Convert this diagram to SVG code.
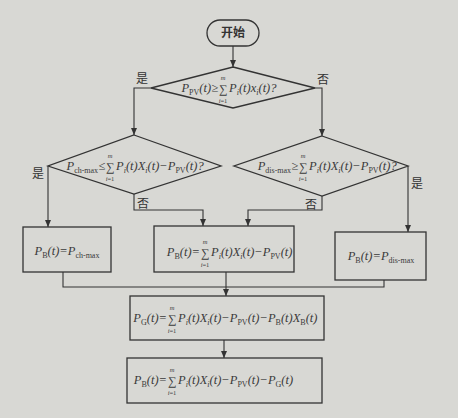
<svg xmlns="http://www.w3.org/2000/svg" width="458" height="418" viewBox="0 0 458 418">
<defs>
<marker id="ar" markerWidth="8" markerHeight="8" refX="7" refY="4" orient="auto" markerUnits="userSpaceOnUse">
<path d="M0,1 L7,4 L0,7 Z" fill="#333"/>
</marker>
<style>
.bg{fill:#d8d8d4}
.shape{fill:none;stroke:#333;stroke-width:1.3}
.line{fill:none;stroke:#333;stroke-width:1.1}
.arr{marker-end:url(#ar)}
.f{font-family:"Liberation Serif",serif;font-size:12.5px;font-style:italic;fill:#3a3a3a}
.s{font-size:8px;font-style:normal}
.si{font-size:8px}
.sig{font-family:"Liberation Serif",serif;font-size:12px;fill:#3a3a3a;text-anchor:middle}
.lim{font-family:"Liberation Serif",serif;font-size:6.5px;fill:#3a3a3a;text-anchor:middle}
.limi{font-style:italic}
.cn{font-family:"Noto Sans CJK SC",sans-serif;font-size:12px;fill:#333;text-anchor:middle}
</style>
</defs>
<rect class="bg" x="0" y="0" width="458" height="418"/>

<g id="connectors">
<path class="line arr" d="M233,46 L233,67"/>
<path class="line arr" d="M151,88 L134,88 L134,135"/>
<path class="line arr" d="M315,88 L322,88 L322,136"/>
<path class="line arr" d="M48,166 L48,227"/>
<path class="line arr" d="M134,194 L134,210 L203,210 L203,226"/>
<path class="line arr" d="M322,196 L322,210 L248,210 L248,226"/>
<path class="line arr" d="M408,166 L408,232"/>
<path class="line" d="M63,272 L63,287 L384,287 L384,280"/>
<path class="line arr" d="M226,272 L226,296"/>
<path class="line arr" d="M224,340 L224,358"/>
<text class="cn" x="142" y="83">是</text>
<text class="cn" x="323" y="84">否</text>
<text class="cn" x="38" y="178">是</text>
<text class="cn" x="143" y="208">否</text>
<text class="cn" x="311" y="209">否</text>
<text class="cn" x="417" y="188">是</text>
</g>

<g id="start">
<rect class="shape" x="207" y="20" width="52" height="26" rx="13"/>
<text class="cn" x="233" y="37" font-weight="bold">开始</text>
</g>

<g id="decision1">
<polygon class="shape" points="233,67 315,88 233,108 151,88"/>
<text class="f" x="218" y="92" text-anchor="end">P<tspan class="s" dy="2.5">PV</tspan><tspan dy="-2.5">(t)≥</tspan></text>
<text class="sig" x="223" y="93">∑</text>
<text class="lim limi" x="223" y="80">m</text>
<text class="lim" x="223" y="103"><tspan class="limi">i</tspan>=1</text>
<text class="f" x="229" y="92">P<tspan class="si" dy="2.5">i</tspan><tspan dy="-2.5">(t)x</tspan><tspan class="si" dy="2.5">i</tspan><tspan dy="-2.5">(t)?</tspan></text>
</g>

<g id="decision2">
<polygon class="shape" points="134,135 221,166 134,194 48,166"/>
<text class="f" x="105" y="170" text-anchor="end">P<tspan class="s" dy="2.5">ch-max</tspan><tspan dy="-2.5">≤</tspan></text>
<text class="sig" x="110" y="171">∑</text>
<text class="lim limi" x="110" y="158">m</text>
<text class="lim" x="110" y="181"><tspan class="limi">i</tspan>=1</text>
<text class="f" x="116" y="170">P<tspan class="si" dy="2.5">i</tspan><tspan dy="-2.5">(t)X</tspan><tspan class="si" dy="2.5">i</tspan><tspan dy="-2.5">(t)−P</tspan><tspan class="s" dy="2.5">PV</tspan><tspan dy="-2.5">(t)?</tspan></text>
</g>

<g id="decision3">
<polygon class="shape" points="322,136 408,166 322,196 234,166"/>
<text class="f" x="298" y="170" text-anchor="end">P<tspan class="s" dy="2.5">dis-max</tspan><tspan dy="-2.5">≥</tspan></text>
<text class="sig" x="303" y="171">∑</text>
<text class="lim limi" x="303" y="158">m</text>
<text class="lim" x="303" y="181"><tspan class="limi">i</tspan>=1</text>
<text class="f" x="309" y="170">P<tspan class="si" dy="2.5">i</tspan><tspan dy="-2.5">(t)X</tspan><tspan class="si" dy="2.5">i</tspan><tspan dy="-2.5">(t)−P</tspan><tspan class="s" dy="2.5">PV</tspan><tspan dy="-2.5">(t)?</tspan></text>
</g>

<g id="box1">
<rect class="shape" x="23" y="227" width="88" height="45"/>
<text class="f" x="67" y="255" text-anchor="middle">P<tspan class="s" dy="2.5">B</tspan><tspan dy="-2.5">(t)=P</tspan><tspan class="s" dy="2.5">ch-max</tspan></text>
</g>

<g id="box2">
<rect class="shape" x="154" y="226" width="140" height="46"/>
<text class="f" x="200" y="256" text-anchor="end">P<tspan class="s" dy="2.5">B</tspan><tspan dy="-2.5">(t)=</tspan></text>
<text class="sig" x="205" y="257">∑</text>
<text class="lim limi" x="205" y="244">m</text>
<text class="lim" x="205" y="267"><tspan class="limi">i</tspan>=1</text>
<text class="f" x="211" y="256">P<tspan class="si" dy="2.5">i</tspan><tspan dy="-2.5">(t)X</tspan><tspan class="si" dy="2.5">i</tspan><tspan dy="-2.5">(t)−P</tspan><tspan class="s" dy="2.5">PV</tspan><tspan dy="-2.5">(t)</tspan></text>
</g>

<g id="box3">
<rect class="shape" x="335" y="232" width="91" height="48"/>
<text class="f" x="381" y="260" text-anchor="middle">P<tspan class="s" dy="2.5">B</tspan><tspan dy="-2.5">(t)=P</tspan><tspan class="s" dy="2.5">dis-max</tspan></text>
</g>

<g id="box4">
<rect class="shape" x="130" y="296" width="194" height="44"/>
<text class="f" x="167" y="322" text-anchor="end">P<tspan class="s" dy="2.5">G</tspan><tspan dy="-2.5">(t)=</tspan></text>
<text class="sig" x="172" y="323">∑</text>
<text class="lim limi" x="172" y="310">m</text>
<text class="lim" x="172" y="333"><tspan class="limi">i</tspan>=1</text>
<text class="f" x="178" y="322">P<tspan class="si" dy="2.5">i</tspan><tspan dy="-2.5">(t)X</tspan><tspan class="si" dy="2.5">i</tspan><tspan dy="-2.5">(t)−P</tspan><tspan class="s" dy="2.5">PV</tspan><tspan dy="-2.5">(t)−P</tspan><tspan class="s" dy="2.5">B</tspan><tspan dy="-2.5">(t)X</tspan><tspan class="s" dy="2.5">B</tspan><tspan dy="-2.5">(t)</tspan></text>
</g>

<g id="box5">
<rect class="shape" x="127" y="358" width="195" height="45"/>
<text class="f" x="167" y="384" text-anchor="end">P<tspan class="s" dy="2.5">B</tspan><tspan dy="-2.5">(t)=</tspan></text>
<text class="sig" x="172" y="385">∑</text>
<text class="lim limi" x="172" y="372">m</text>
<text class="lim" x="172" y="395"><tspan class="limi">i</tspan>=1</text>
<text class="f" x="178" y="384">P<tspan class="si" dy="2.5">i</tspan><tspan dy="-2.5">(t)X</tspan><tspan class="si" dy="2.5">i</tspan><tspan dy="-2.5">(t)−P</tspan><tspan class="s" dy="2.5">PV</tspan><tspan dy="-2.5">(t)−P</tspan><tspan class="s" dy="2.5">G</tspan><tspan dy="-2.5">(t)</tspan></text>
</g>
</svg>
